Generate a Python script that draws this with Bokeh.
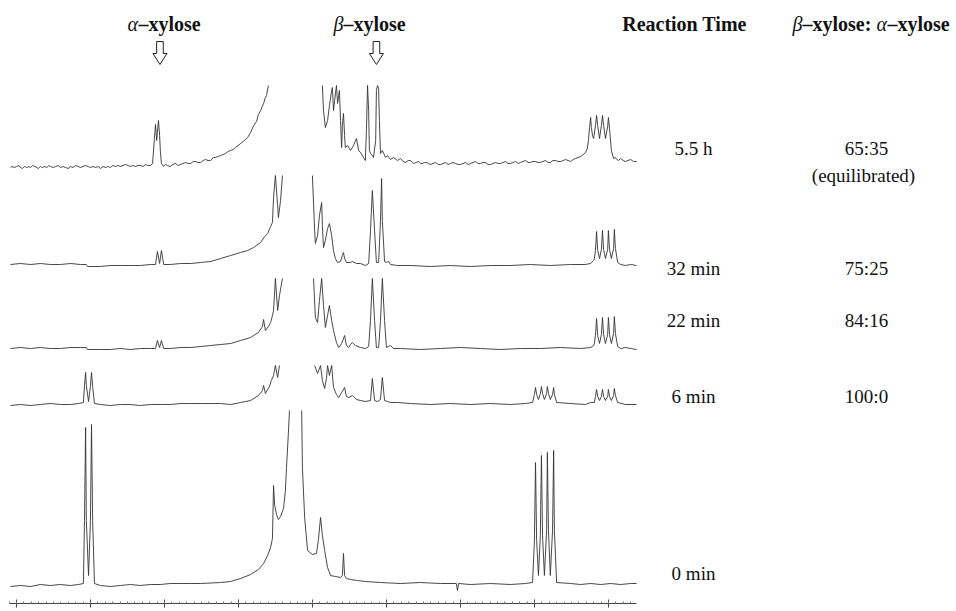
from bokeh.plotting import figure
from bokeh.models import Range1d, LinearAxis, SingleIntervalTicker, Label, CustomJSTickFormatter
from bokeh.embed import file_html
from bokeh.resources import INLINE

NAN = float("nan")

# ---- data: (chemical shift ppm, intensity above own baseline) ----
spec_0min = [(5.616,-1),(5.589,0),(5.562,-1),(5.535,1),(5.508,0),(5.481,1),(5.454,0),(5.432,1),(5.419,2),(5.416,65),(5.413,158),(5.411,65),(5.405,10),(5.400,65),(5.397,161),(5.394,65),(5.389,2),(5.373,0),(5.346,-1),(5.319,0),(5.292,1),(5.265,0),(5.238,1),(5.211,1),(5.184,2),(5.157,2),(5.129,2),(5.102,2),(5.048,3),(5.021,4),(4.994,7),(4.967,11),(4.946,16),(4.932,22),(4.921,30),(4.913,38),(4.908,47),(4.905,100),(4.902,80),(4.897,71),(4.892,66),(4.886,69),(4.878,77),(4.873,95),(4.870,118),(4.865,152),(4.862,175),(4.846,NAN),(4.829,175),(4.827,118),(4.821,68),(4.813,35),(4.800,31),(4.789,32),(4.784,45),(4.778,68),(4.773,50),(4.767,35),(4.759,18),(4.751,10),(4.738,9),(4.724,8),(4.719,10),(4.716,32),(4.713,10),(4.708,7),(4.697,6),(4.678,5),(4.657,4),(4.616,3),(4.562,2),(4.508,3),(4.454,2),(4.411,2),(4.408,-5),(4.405,2),(4.373,1),(4.319,2),(4.265,1),(4.224,2),(4.205,3),(4.200,45),(4.197,123),(4.194,45),(4.189,10),(4.184,50),(4.181,130),(4.178,50),(4.173,10),(4.167,55),(4.165,133),(4.162,55),(4.157,10),(4.151,55),(4.148,135),(4.146,55),(4.140,3),(4.102,2),(4.075,1),(4.048,2),(4.021,1),(3.994,2),(3.967,1),(3.940,2),(3.924,2)]

spec_6min = [(5.616,-1),(5.589,0),(5.562,-1),(5.535,0),(5.508,1),(5.481,0),(5.454,0),(5.432,1),(5.419,2),(5.416,19),(5.413,32),(5.411,19),(5.405,3),(5.400,18),(5.397,32),(5.394,18),(5.389,1),(5.373,0),(5.346,-1),(5.319,0),(5.292,0),(5.265,-1),(5.238,0),(5.211,0),(5.184,0),(5.157,1),(5.129,1),(5.102,1),(5.075,1),(5.048,1),(5.021,0),(4.994,2),(4.967,4),(4.946,9),(4.935,14),(4.932,19),(4.927,11),(4.921,15),(4.916,18),(4.911,24),(4.905,29),(4.900,39),(4.894,27),(4.889,39),(4.846,NAN),(4.794,39),(4.786,31),(4.778,39),(4.773,24),(4.767,16),(4.762,26),(4.759,39),(4.754,29),(4.748,39),(4.743,17),(4.735,10),(4.729,7),(4.721,12),(4.713,17),(4.708,8),(4.702,7),(4.692,9),(4.681,5),(4.670,4),(4.657,3),(4.643,4),(4.638,26),(4.632,4),(4.624,3),(4.616,5),(4.611,27),(4.605,4),(4.597,3),(4.589,2),(4.570,2),(4.535,1),(4.481,0),(4.427,1),(4.373,0),(4.319,1),(4.265,0),(4.224,1),(4.205,2),(4.200,10),(4.197,17),(4.194,10),(4.189,5),(4.184,11),(4.181,18),(4.178,11),(4.173,5),(4.167,11),(4.165,18),(4.162,11),(4.157,5),(4.151,10),(4.148,17),(4.146,10),(4.140,2),(4.102,1),(4.062,0),(4.048,2),(4.038,2),(4.035,8),(4.032,15),(4.029,8),(4.024,4),(4.019,8),(4.016,15),(4.013,8),(4.008,4),(4.002,8),(4.000,15),(3.997,8),(3.992,4),(3.986,9),(3.984,16),(3.981,9),(3.975,2),(3.954,0),(3.924,0)]

spec_22min = [(5.616,0),(5.589,1),(5.562,0),(5.535,1),(5.508,0),(5.481,0),(5.454,1),(5.427,1),(5.411,1),(5.408,-1),(5.373,-1),(5.346,-1),(5.319,0),(5.292,-1),(5.265,0),(5.238,0),(5.224,0),(5.219,8),(5.213,1),(5.208,8),(5.202,0),(5.184,0),(5.157,1),(5.129,1),(5.102,2),(5.075,3),(5.048,4),(5.021,5),(4.994,8),(4.967,11),(4.946,16),(4.935,22),(4.932,29),(4.927,18),(4.919,22),(4.913,26),(4.908,33),(4.905,38),(4.900,70),(4.894,38),(4.889,53),(4.881,70),(4.846,NAN),(4.797,70),(4.792,31),(4.786,26),(4.781,48),(4.775,70),(4.770,43),(4.765,21),(4.759,33),(4.754,43),(4.748,28),(4.743,18),(4.735,6),(4.729,1),(4.721,5),(4.713,13),(4.708,3),(4.702,1),(4.697,4),(4.692,6),(4.684,3),(4.670,1),(4.657,0),(4.648,2),(4.643,28),(4.638,70),(4.632,28),(4.627,1),(4.621,1),(4.616,28),(4.611,70),(4.605,28),(4.600,1),(4.589,3),(4.581,0),(4.562,0),(4.508,-1),(4.454,0),(4.400,1),(4.346,0),(4.292,-1),(4.238,0),(4.184,0),(4.129,1),(4.075,0),(4.048,1),(4.040,3),(4.038,5),(4.035,13),(4.032,30),(4.029,13),(4.024,5),(4.019,14),(4.016,31),(4.013,14),(4.008,5),(4.002,14),(4.000,31),(3.997,14),(3.992,5),(3.986,15),(3.984,32),(3.981,15),(3.975,2),(3.967,0),(3.954,1),(3.940,0),(3.924,-1)]

spec_32min = [(5.616,0),(5.589,1),(5.562,0),(5.535,1),(5.508,0),(5.481,0),(5.454,1),(5.427,0),(5.411,0),(5.408,-2),(5.373,-2),(5.346,-1),(5.319,-1),(5.292,-1),(5.265,-1),(5.238,0),(5.224,0),(5.219,13),(5.213,1),(5.208,14),(5.202,0),(5.184,0),(5.157,1),(5.129,1),(5.102,2),(5.075,3),(5.048,6),(5.021,9),(4.994,12),(4.975,14),(4.959,17),(4.940,22),(4.929,28),(4.921,31),(4.913,38),(4.908,42),(4.905,67),(4.900,89),(4.894,59),(4.892,47),(4.886,64),(4.881,89),(4.846,NAN),(4.800,89),(4.794,34),(4.792,21),(4.786,29),(4.781,49),(4.775,62),(4.773,39),(4.770,17),(4.765,24),(4.759,36),(4.754,41),(4.748,29),(4.743,14),(4.738,6),(4.732,2),(4.724,3),(4.719,9),(4.716,12),(4.713,6),(4.708,2),(4.697,2),(4.692,3),(4.681,1),(4.670,1),(4.657,-1),(4.648,1),(4.643,34),(4.638,74),(4.632,34),(4.627,2),(4.621,2),(4.616,44),(4.613,86),(4.611,44),(4.605,3),(4.600,2),(4.594,3),(4.589,0),(4.570,-1),(4.535,-1),(4.481,-2),(4.427,-1),(4.373,-2),(4.319,-1),(4.265,-1),(4.211,0),(4.157,-1),(4.102,0),(4.062,0),(4.048,1),(4.040,4),(4.038,6),(4.035,14),(4.032,33),(4.029,14),(4.024,6),(4.019,15),(4.016,34),(4.013,15),(4.008,6),(4.002,15),(4.000,34),(3.997,15),(3.992,6),(3.986,16),(3.984,35),(3.981,16),(3.975,2),(3.967,0),(3.954,-1),(3.940,0),(3.924,-1)]

spec_5h = [(5.616,-2),(5.612,-1),(5.606,-2),(5.600,-1),(5.593,0),(5.589,-2),(5.584,-3),(5.578,-1),(5.572,-2),(5.566,-1),(5.562,-2),(5.556,0),(5.550,-1),(5.545,-2),(5.541,-3),(5.535,-1),(5.530,-2),(5.524,-1),(5.518,-2),(5.512,0),(5.508,-1),(5.500,-2),(5.494,-1),(5.487,0),(5.481,-2),(5.474,-1),(5.467,-2),(5.460,-3),(5.454,-1),(5.447,-2),(5.440,0),(5.433,-1),(5.427,-2),(5.420,-1),(5.413,0),(5.406,-1),(5.400,-2),(5.393,-1),(5.386,-2),(5.379,-1),(5.373,-3),(5.366,-1),(5.359,-2),(5.352,-1),(5.346,-2),(5.339,0),(5.332,-1),(5.325,0),(5.319,-1),(5.312,0),(5.305,1),(5.298,0),(5.292,-1),(5.285,0),(5.278,-1),(5.271,0),(5.265,0),(5.258,-1),(5.251,1),(5.245,0),(5.238,0),(5.232,2),(5.227,27),(5.224,41),(5.221,25),(5.219,33),(5.216,45),(5.213,30),(5.211,15),(5.208,2),(5.202,-1),(5.197,1),(5.192,0),(5.184,-1),(5.177,1),(5.170,2),(5.163,0),(5.157,1),(5.150,2),(5.143,3),(5.136,2),(5.129,2),(5.122,4),(5.116,4),(5.109,3),(5.102,3),(5.095,5),(5.089,6),(5.082,5),(5.075,5),(5.068,8),(5.062,8),(5.055,9),(5.048,10),(5.041,11),(5.035,12),(5.028,14),(5.021,15),(5.014,16),(5.008,18),(5.001,20),(4.994,22),(4.987,24),(4.981,26),(4.975,28),(4.967,33),(4.959,40),(4.951,44),(4.946,51),(4.940,55),(4.932,62),(4.927,68),(4.924,70),(4.919,80),(4.846,NAN),(4.773,80),(4.770,55),(4.765,38),(4.759,45),(4.754,60),(4.748,75),(4.746,78),(4.743,55),(4.740,65),(4.735,80),(4.732,62),(4.729,70),(4.727,75),(4.724,45),(4.721,18),(4.719,40),(4.716,52),(4.713,30),(4.711,18),(4.705,20),(4.697,15),(4.689,20),(4.681,27),(4.675,15),(4.670,13),(4.662,8),(4.657,5),(4.654,35),(4.651,80),(4.648,55),(4.646,15),(4.643,12),(4.638,10),(4.635,8),(4.629,25),(4.627,75),(4.624,80),(4.621,77),(4.619,45),(4.616,12),(4.611,15),(4.602,8),(4.597,10),(4.589,6),(4.581,8),(4.570,5),(4.562,7),(4.555,4),(4.548,3),(4.541,5),(4.535,5),(4.527,2),(4.520,3),(4.513,4),(4.507,2),(4.502,2),(4.497,3),(4.492,3),(4.486,2),(4.481,1),(4.474,2),(4.467,3),(4.460,1),(4.454,1),(4.447,2),(4.440,3),(4.433,1),(4.427,2),(4.420,3),(4.413,2),(4.406,1),(4.400,1),(4.393,2),(4.386,3),(4.379,1),(4.373,2),(4.366,3),(4.359,4),(4.352,2),(4.346,2),(4.339,3),(4.332,3),(4.325,1),(4.319,1),(4.312,2),(4.305,3),(4.298,2),(4.292,2),(4.285,3),(4.278,4),(4.271,2),(4.265,2),(4.258,3),(4.251,4),(4.244,2),(4.238,3),(4.231,4),(4.224,5),(4.217,3),(4.211,3),(4.204,4),(4.197,4),(4.190,3),(4.184,3),(4.177,4),(4.170,5),(4.163,3),(4.157,3),(4.150,5),(4.143,5),(4.136,4),(4.129,4),(4.122,5),(4.116,6),(4.109,5),(4.102,4),(4.095,6),(4.089,7),(4.082,8),(4.075,9),(4.068,11),(4.062,13),(4.057,17),(4.054,25),(4.051,38),(4.048,48),(4.046,38),(4.043,30),(4.040,27),(4.035,40),(4.032,50),(4.029,40),(4.024,27),(4.019,40),(4.016,50),(4.013,40),(4.008,27),(4.002,39),(4.000,48),(3.997,37),(3.992,15),(3.986,7),(3.981,8),(3.977,6),(3.973,5),(3.967,7),(3.960,5),(3.954,4),(3.947,5),(3.940,6),(3.932,4),(3.924,4)]

spectra = [spec_0min, spec_6min, spec_22min, spec_32min, spec_5h]
reaction_times = ["0 min", "6 min", "22 min", "32 min", "5.5 h"]
ratios = ["", "100:0", "84:16", "75:25", "65:35"]
ratio_note = "(equilibrated)"
alpha_h1_ppm = 5.212
beta_h1_ppm = 4.627

# ---- layout (pixels of the page image; the page is drawn from its top-left corner) ----
PX_PER_PPM = 370.0
FIG_W, FIG_H = 956, 611
MIN_BOTTOM = 8
FRAME_H = FIG_H - MIN_BOTTOM
X_LEFT = 5.643
X_RIGHT = X_LEFT - FIG_W / PX_PER_PPM

def dx(px):
    return X_LEFT - px / PX_PER_PPM

def dy(py):
    return FRAME_H - py

baselines_img = [585, 404, 348, 264, 165]
row_label_img = [573, 396, 320, 268, 148]

p = figure(width=FIG_W, height=FIG_H, x_range=Range1d(X_LEFT, X_RIGHT),
           y_range=Range1d(0, FRAME_H), toolbar_location=None, output_backend="svg",
           x_axis_location=None, y_axis_location=None, min_border=0,
           min_border_bottom=MIN_BOTTOM)
p.outline_line_color = None
p.grid.grid_line_color = None
p.background_fill_color = "white"
p.border_fill_color = "white"

LINE = "#333333"
for spec, base in zip(spectra, baselines_img):
    xs = [s[0] for s in spec]
    ys = [s[1] + dy(base) for s in spec]
    p.line(xs, ys, line_color=LINE, line_width=0.9)

ax = LinearAxis(ticker=SingleIntervalTicker(interval=0.2, num_minor_ticks=10),
                bounds=(3.924, 5.620))
ax.formatter = CustomJSTickFormatter(code="return ''")
ax.major_label_text_font_size = "0px"
ax.major_label_standoff = 0
ax.axis_label_standoff = 0
ax.major_tick_in = 4
ax.major_tick_out = 4
ax.minor_tick_in = 2
ax.minor_tick_out = 0
ax.axis_line_color = "#444444"
ax.major_tick_line_color = "#444444"
ax.minor_tick_line_color = "#777777"
p.add_layout(ax, "below")

# hollow arrows
for c in (alpha_h1_ppm, beta_h1_ppm):
    off = [-3.3, 3.3, 3.3, 7, 0, -7, -3.3]
    pys = [41, 41, 53, 53, 64, 53, 53]
    p.patch([c - o / PX_PER_PPM for o in off], [dy(v) for v in pys],
            fill_color="white", line_color="#222222", line_width=1)

SERIF = "Liberation Serif"
HDR = "20px"
VAL = "19px"

def lab(px, py, text, size, style="normal", align="left", base="alphabetic"):
    p.add_layout(Label(x=dx(px), y=dy(py), text=text, text_font=SERIF,
                       text_font_size=size, text_font_style=style,
                       text_align=align, text_baseline=base, text_color="#111111"))

HY = 23
lab(127, HY, "\u03b1", HDR, "italic")
lab(138, HY, "\u2013xylose", HDR, "bold")
lab(333, HY, "\u03b2", HDR, "italic")
lab(343, HY, "\u2013xylose", HDR, "bold")
lab(684, HY, "Reaction Time", HDR, "bold", "center")
lab(792, HY, "\u03b2", HDR, "italic")
lab(802, HY, "\u2013xylose: ", HDR, "bold")
lab(876, HY, "\u03b1", HDR, "italic")
lab(887, HY, "\u2013xylose", HDR, "bold")

for t, r, py in zip(reaction_times, ratios, row_label_img):
    lab(693, py, t, VAL, "normal", "center", "middle")
    if r:
        lab(866, py, r, VAL, "normal", "center", "middle")
lab(863, row_label_img[-1] + 27, ratio_note, VAL, "normal", "center", "middle")

open("out.html", "w").write(file_html(p, INLINE))
